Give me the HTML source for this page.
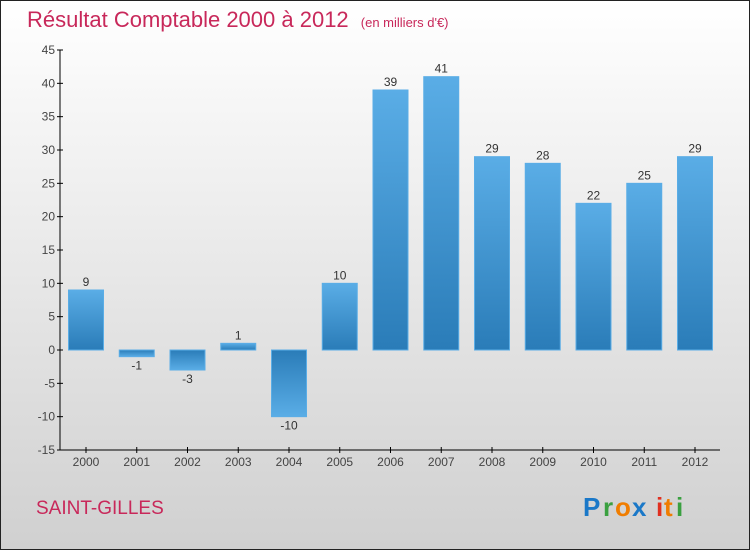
<!DOCTYPE html>
<html><head><meta charset="utf-8"><style>
body{margin:0;width:750px;height:550px;overflow:hidden;font-family:"Liberation Sans",sans-serif}
</style></head><body>
<svg width="750" height="550" xmlns="http://www.w3.org/2000/svg">
<defs>
<linearGradient id="bg" x1="0" y1="0" x2="0" y2="1"><stop offset="0" stop-color="#ffffff"/><stop offset="1" stop-color="#d0d0d0"/></linearGradient>
<linearGradient id="bar" x1="0" y1="0" x2="0" y2="1"><stop offset="0" stop-color="#5aade6"/><stop offset="1" stop-color="#2a7cb8"/></linearGradient>
<linearGradient id="barn" x1="0" y1="0" x2="0" y2="1"><stop offset="0" stop-color="#2a7cb8"/><stop offset="1" stop-color="#5aade6"/></linearGradient>
</defs>
<rect x="0.5" y="0.5" width="749" height="549" fill="url(#bg)" stroke="#222"/>
<text x="27" y="27" font-size="22" fill="#c8285a">Résultat Comptable 2000 à 2012 <tspan font-size="13" dx="6">(en milliers d'€)</tspan></text>
<g id="axes"></g>
<g id="bars"></g>
<text x="36" y="514" font-size="19" fill="#c8285a">SAINT-GILLES</text>
<g font-size="26" font-weight="bold">
<text x="583" y="516" fill="#1a78c8">P</text><text x="603" y="516" fill="#3aa040">r</text><text x="615" y="516" fill="#f07d00">o</text><text x="632" y="516" fill="#1a78c8">x</text><text x="656" y="516" fill="#e03020">i</text><text x="664" y="516" fill="#f07d00">t</text><text x="676" y="516" fill="#3aa040">i</text>
</g>
</svg>
<script>
const years=["2000","2001","2002","2003","2004","2005","2006","2007","2008","2009","2010","2011","2012"];
const values=[9,-1,-3,1,-10,10,39,41,29,28,22,25,29];
const ticks=[45,40,35,30,25,20,15,10,5,0,-5,-10,-15];
const NS="http://www.w3.org/2000/svg";
const y=v=>350-v*(400/60);
const x=i=>86+i*50.75;
const ax=document.getElementById('axes'),bs=document.getElementById('bars');
function mk(p,t,a){const e=document.createElementNS(NS,t);for(const k in a)e.setAttribute(k,a[k]);p.appendChild(e);return e;}
let l=mk(ax,'line',{x1:60,y1:50,x2:60,y2:450,stroke:'#000'});


l=mk(ax,'line',{x1:60,y1:450,x2:720,y2:450,stroke:'#000'});


ticks.forEach(t=>{
 mk(ax,'line',{x1:57,y1:y(t),x2:63,y2:y(t),stroke:'#000'});
 const e=mk(ax,'text',{x:55,y:y(t)+4,'text-anchor':'end','font-size':12,fill:'#444'});
 e.textContent=t;
 
 
});
years.forEach((yr,i)=>{
 mk(ax,'line',{x1:x(i),y1:447,x2:x(i),y2:453,stroke:'#000'});
 const e=mk(ax,'text',{x:x(i),y:466,'text-anchor':'middle','font-size':12,fill:'#444'});
 e.textContent=yr;
 
 
 const v=values[i];
 const top=Math.min(y(v),y(0)),h=Math.abs(y(v)-y(0));
 const r=mk(bs,'rect',{x:x(i)-17.5,y:top,width:35,height:h,fill:v>=0?'url(#bar)':'url(#barn)',stroke:'#5aade6','stroke-width':1});
 
 
 const t=mk(bs,'text',{x:x(i),y:v>=0?y(v)-4:y(v)+13,'text-anchor':'middle','font-size':12,fill:'#333'});
 t.textContent=v;
 
 
});
</script>
</body></html>
